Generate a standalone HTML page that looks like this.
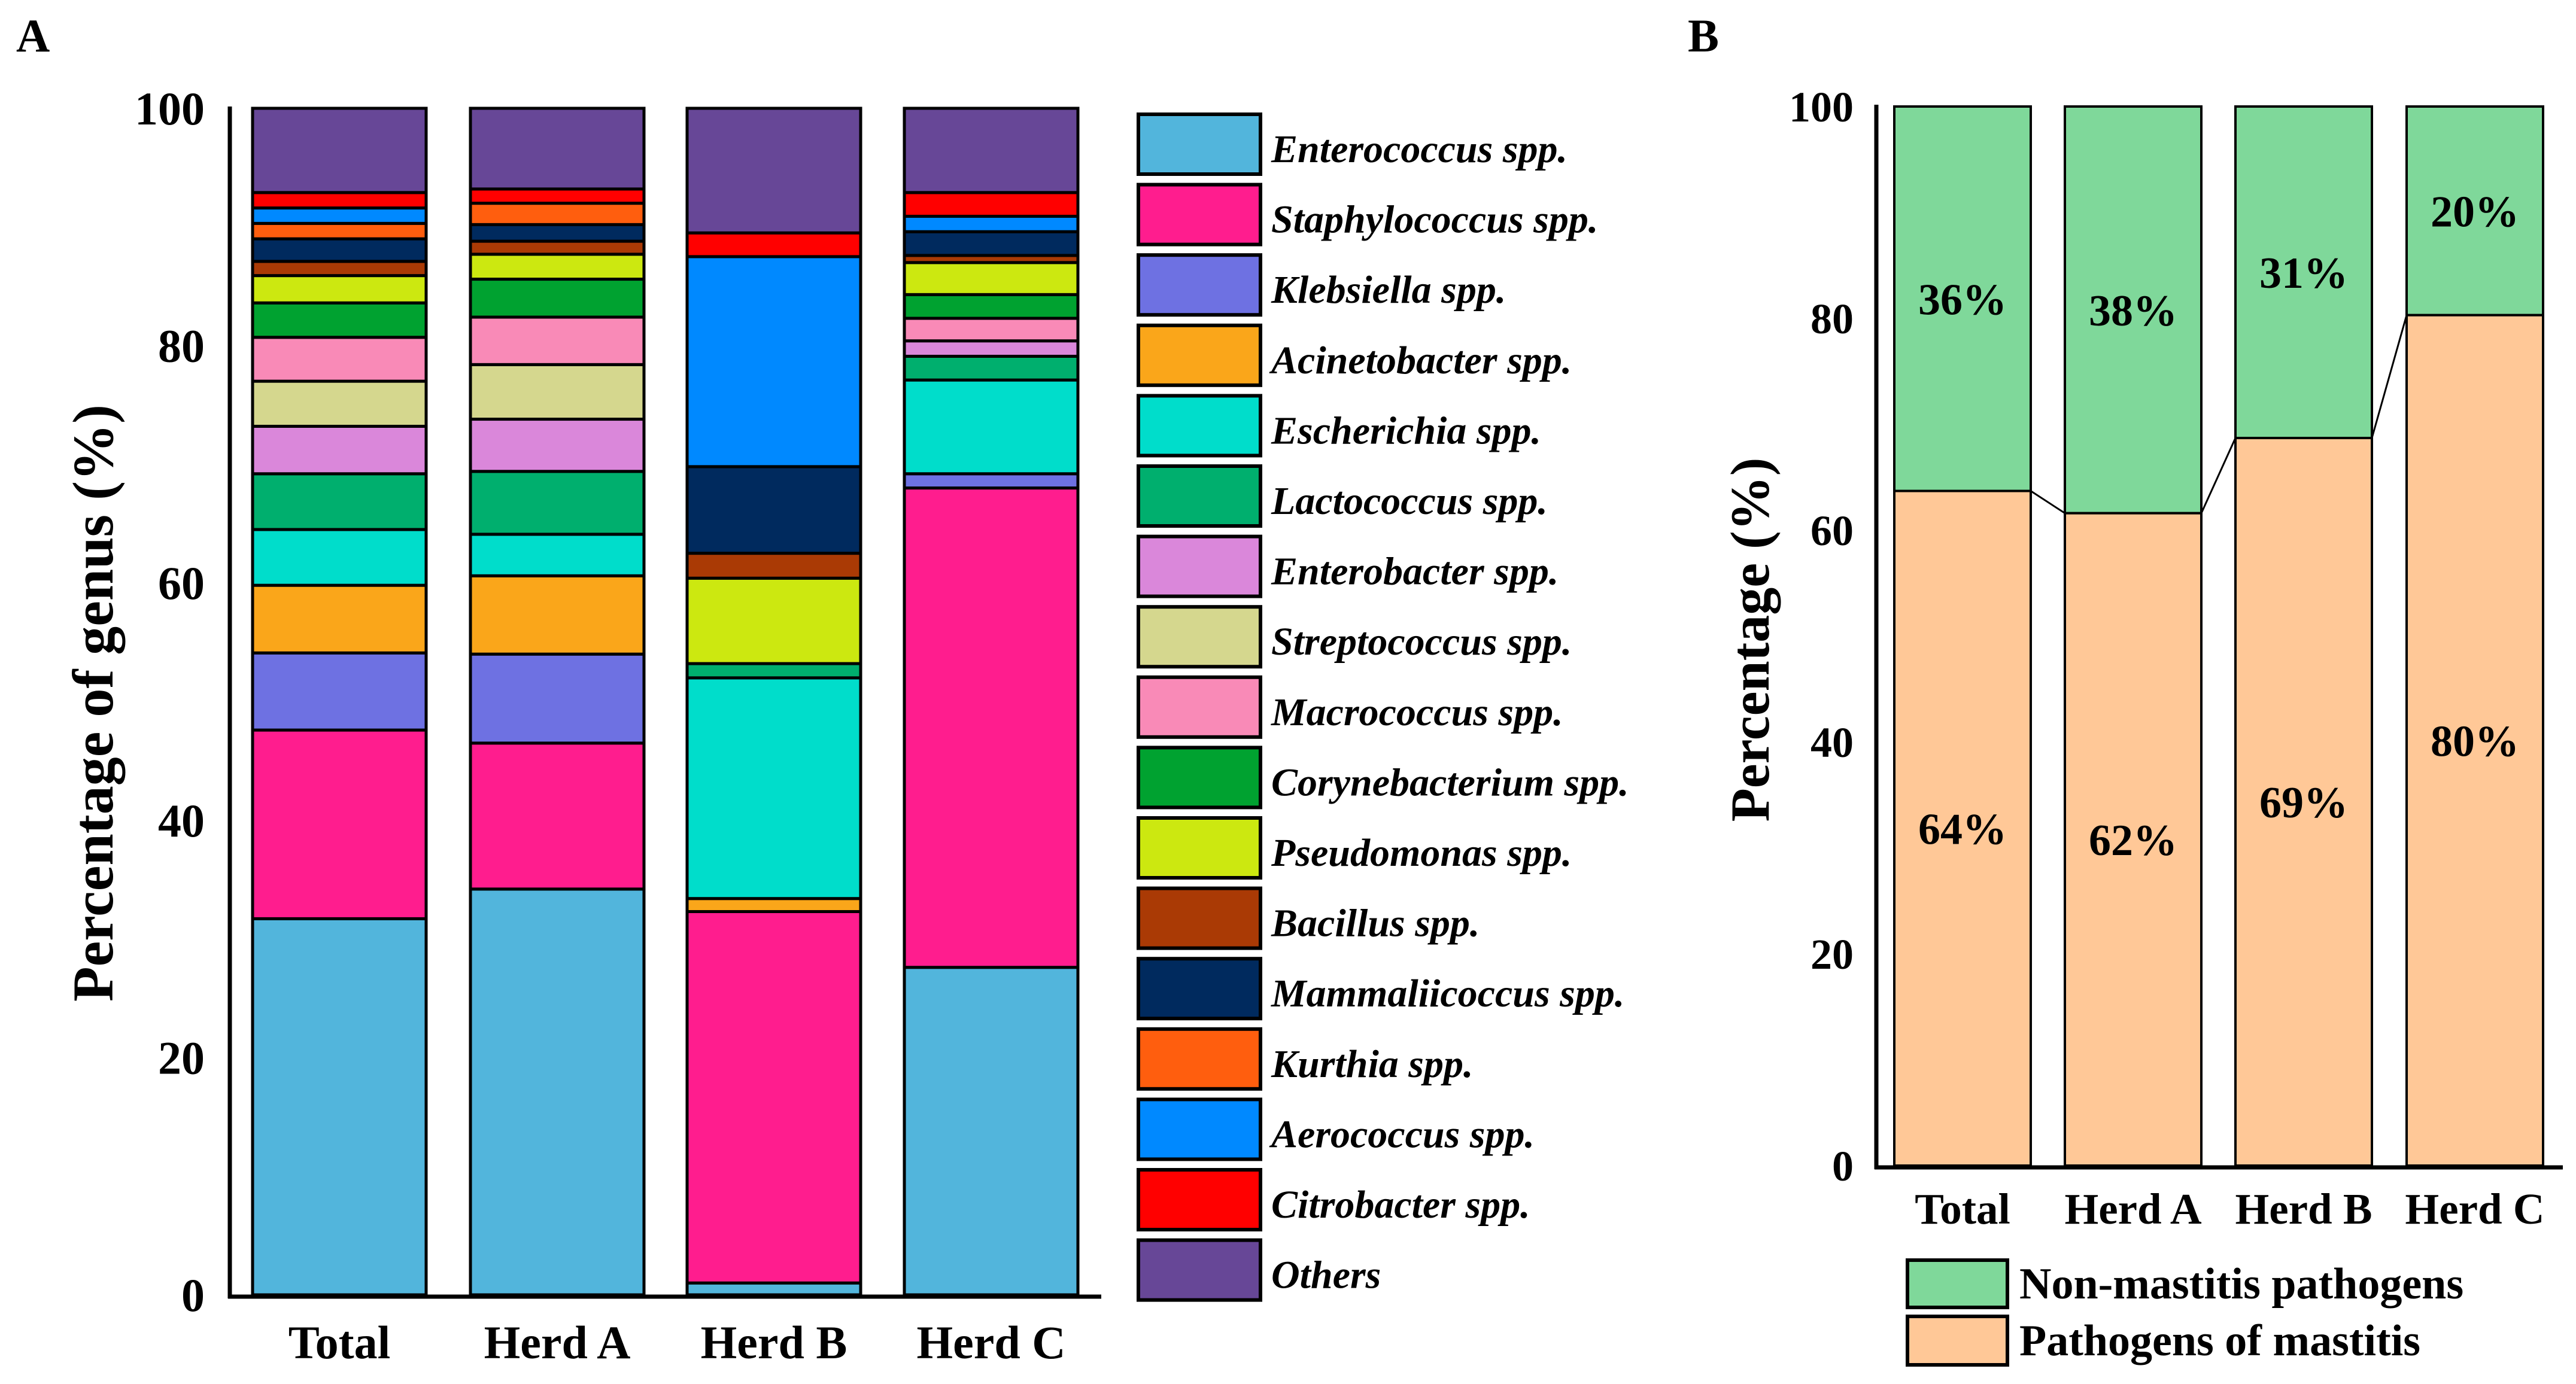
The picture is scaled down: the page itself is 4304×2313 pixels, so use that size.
<!DOCTYPE html>
<html><head><meta charset="utf-8"><style>
html,body{margin:0;padding:0;background:#fff;}
svg{display:block;font-family:"Liberation Serif",serif;font-weight:bold;}
</style></head><body>
<svg id="fig" width="4304" height="2313" viewBox="0 0 4304 2313" xmlns="http://www.w3.org/2000/svg">
<g id="panelA"></g>
<g id="panelB"></g>
</svg>
<script>
// ---- Panel A data ----
const catsA = ["Total", "Herd A", "Herd B", "Herd C"];
const genera = ["Enterococcus spp.","Staphylococcus spp.","Klebsiella spp.","Acinetobacter spp.","Escherichia spp.","Lactococcus spp.","Enterobacter spp.","Streptococcus spp.","Macrococcus spp.","Corynebacterium spp.","Pseudomonas spp.","Bacillus spp.","Mammaliicoccus spp.","Kurthia spp.","Aerococcus spp.","Citrobacter spp.","Others"];
const colorsA = ["#52B5DC","#FF1D8E","#6E71E2","#FAA61A","#00DDCB","#00AF6E","#DA87DA","#D5D78E","#F98AB7","#00A230","#CCE810","#AA3A05","#002A5E","#FF5E0E","#0089FF","#FF0000","#674797"];
const valsTotal = [31.7,15.9,6.5,5.7,4.7,4.7,4.0,3.8,3.7,2.9,2.3,1.2,1.9,1.3,1.3,1.3,7.1];
const valsHerdA = [34.2,12.3,7.5,6.6,3.5,5.3,4.4,4.6,4.0,3.2,2.1,1.1,1.4,1.8,0.0,1.2,6.8];
const valsHerdB = [1.0,31.3,0.0,1.1,18.6,1.2,0.0,0.0,0.0,0.0,7.2,2.1,7.3,0.0,17.7,2.0,10.5];
const valsHerdC = [27.6,40.4,1.2,0.0,7.9,2.0,1.3,0.0,1.9,2.0,2.7,0.6,2.0,0.0,1.3,2.0,7.1];
const ticksA = [0,20,40,60,80,100];

// ---- Panel B data ----
const catsB = ["Total", "Herd A", "Herd B", "Herd C"];
const mastitis = [63.7, 61.6, 68.7, 80.3];
const labelsMastitis = ["64%","62%","69%","80%"];
const labelsNon = ["36%","38%","31%","20%"];
const ticksB = [0,20,40,60,80,100];

const NS = "http://www.w3.org/2000/svg";
function mk(parent, tag, attrs, text){
  const e = document.createElementNS(NS, tag);
  for (const k in attrs) e.setAttribute(k, attrs[k]);
  if (text !== undefined) e.textContent = text;
  parent.appendChild(e);
  return e;
}

// ===== Panel A =====
const A = document.getElementById('panelA');
const yA = v => 2164 - v * (2164 - 181) / 100;
const barLeftA = [422, 786, 1148, 1511];
const barW_A = 290;
const seriesA = [valsTotal, valsHerdA, valsHerdB, valsHerdC];

let t = mk(A, 'text', {x: 27, y: 86, 'font-size': 78}, 'A');



seriesA.forEach((vals, i) => {
  const g = mk(A, 'g', {});
  
  
  let cum = 0;
  vals.forEach((v, j) => {
    if (v <= 0) return;
    const r = mk(g, 'rect', {x: barLeftA[i], y: yA(cum + v), width: barW_A, height: yA(cum) - yA(cum + v), fill: colorsA[j], stroke: '#000', 'stroke-width': 5});
    
    
    cum += v;
  });
  const lb = mk(A, 'text', {x: barLeftA[i] + barW_A / 2, y: 2270, 'font-size': 78, 'text-anchor': 'middle'}, catsA[i]);
  
  
});
// axes
let ax = mk(A, 'line', {x1: 384, y1: 178, x2: 384, y2: 2170, stroke: '#000', 'stroke-width': 7});


ax = mk(A, 'line', {x1: 381, y1: 2167, x2: 1840, y2: 2167, stroke: '#000', 'stroke-width': 7});


ticksA.forEach(v => {
  const tl = mk(A, 'text', {x: 342, y: yA(v) + 27, 'font-size': 78, 'text-anchor': 'end'}, String(v));
  
  
});
t = mk(A, 'text', {x: 0, y: 0, 'font-size': 96, 'text-anchor': 'middle', transform: 'translate(188,1175) rotate(-90)'}, 'Percentage of genus (%)');


// legend A
genera.forEach((name, j) => {
  const y0 = 191 + j * 117.6;
  const g = mk(A, 'g', {});
  
  
  mk(g, 'rect', {x: 1902, y: y0, width: 204, height: 100, fill: colorsA[j], stroke: '#000', 'stroke-width': 6});
  mk(g, 'text', {x: 2124, y: y0 + 80, 'font-size': 66, 'font-style': 'italic'}, name);
});

// ===== Panel B =====
const B = document.getElementById('panelB');
const yB = v => 1948 - v * (1948 - 178) / 100;
const barLeftB = [3165, 3450, 3735, 4021];
const barW_B = 228;

t = mk(B, 'text', {x: 2820, y: 86, 'font-size': 78}, 'B');



mastitis.forEach((m, i) => {
  const g = mk(B, 'g', {});
  
  
  const r1 = mk(g, 'rect', {x: barLeftB[i], y: yB(100), width: barW_B, height: yB(m) - yB(100), fill: '#7FD89A', stroke: '#000', 'stroke-width': 4});
  
  
  const r2 = mk(g, 'rect', {x: barLeftB[i], y: yB(m), width: barW_B, height: yB(0) - yB(m), fill: '#FFC897', stroke: '#000', 'stroke-width': 4});
  
  
  const l1 = mk(B, 'text', {x: barLeftB[i] + barW_B / 2, y: yB((100 + m) / 2) + 26, 'font-size': 74, 'text-anchor': 'middle'}, labelsNon[i]);
  
  
  const l2 = mk(B, 'text', {x: barLeftB[i] + barW_B / 2, y: yB(m / 2) + 26, 'font-size': 74, 'text-anchor': 'middle'}, labelsMastitis[i]);
  
  
  const cl = mk(B, 'text', {x: barLeftB[i] + barW_B / 2, y: 2045, 'font-size': 73, 'text-anchor': 'middle'}, catsB[i]);
  
  
  if (i < mastitis.length - 1) {
    const ln = mk(B, 'line', {x1: barLeftB[i] + barW_B, y1: yB(m), x2: barLeftB[i + 1], y2: yB(mastitis[i + 1]), stroke: '#000', 'stroke-width': 3});
    
    
  }
});
ax = mk(B, 'line', {x1: 3135, y1: 175, x2: 3135, y2: 1954, stroke: '#000', 'stroke-width': 7});


ax = mk(B, 'line', {x1: 3132, y1: 1951, x2: 4282, y2: 1951, stroke: '#000', 'stroke-width': 7});


ticksB.forEach(v => {
  const tl = mk(B, 'text', {x: 3097, y: yB(v) + 25, 'font-size': 72, 'text-anchor': 'end'}, String(v));
  
  
});
t = mk(B, 'text', {x: 0, y: 0, 'font-size': 92, 'text-anchor': 'middle', transform: 'translate(2955,1069) rotate(-90)'}, 'Percentage (%)');


// legend B
let lg = mk(B, 'g', {});


mk(lg, 'rect', {x: 3187, y: 2106, width: 167, height: 79, fill: '#7FD89A', stroke: '#000', 'stroke-width': 6});
mk(lg, 'text', {x: 3374, y: 2170, 'font-size': 74}, 'Non-mastitis pathogens');
lg = mk(B, 'g', {});


mk(lg, 'rect', {x: 3187, y: 2200, width: 167, height: 81, fill: '#FFC897', stroke: '#000', 'stroke-width': 6});
mk(lg, 'text', {x: 3374, y: 2265, 'font-size': 74}, 'Pathogens of mastitis');
</script>
</body></html>
